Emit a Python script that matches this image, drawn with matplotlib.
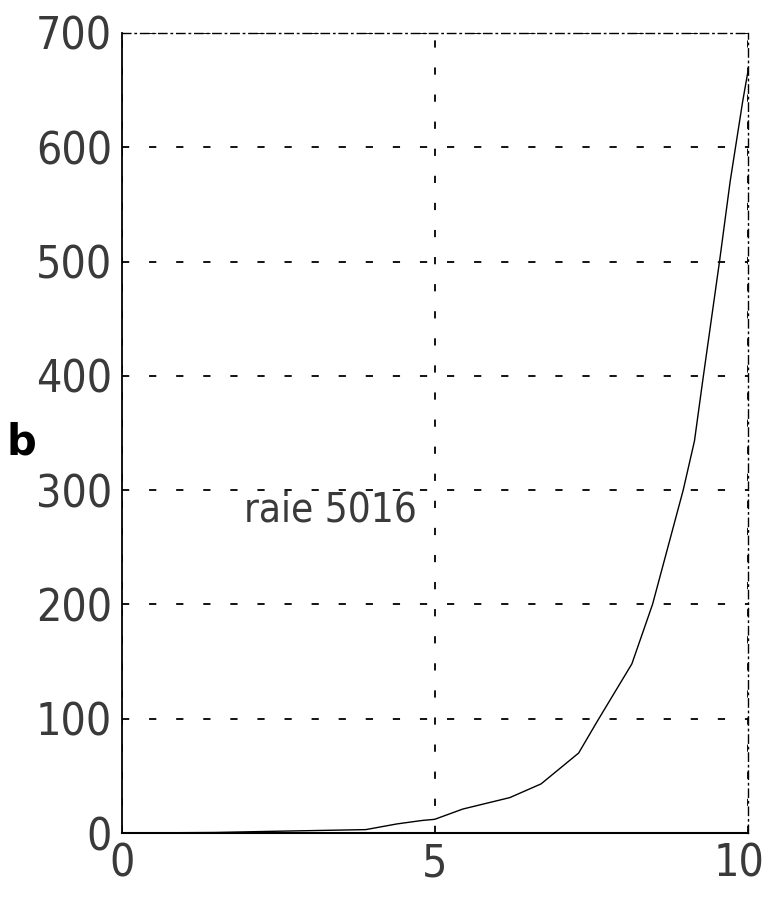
import matplotlib.pyplot as plt
import matplotlib.transforms as mtransforms
from matplotlib import font_manager
from matplotlib.font_manager import FontProperties

# growth curve for the 5016 line
x_vals = [0, 1.5, 2.4, 3.9, 4.4, 4.8, 5.0, 5.45, 6.2, 6.7, 7.3, 7.6, 8.15,
          8.48, 8.97, 9.15, 9.28, 9.55, 9.72, 9.82, 9.92, 10.0]
b_vals = [0, 0.5, 1.5, 3, 8, 11, 12, 21, 31, 43, 70, 98, 148,
          200, 300, 343, 395, 500, 570, 605, 640, 665]

x_ticks = [0, 5, 10]
y_ticks = [0, 100, 200, 300, 400, 500, 600, 700]
label_text = "raie 5016"

# look for a condensed face for the big tick labels
narrow_file = None
for f in font_manager.fontManager.ttflist:
    condensed = ('Narrow' in f.name or 'Condensed' in f.name
                 or str(f.stretch) in ('condensed', 'semi-condensed', '75', '87'))
    if condensed and f.weight in (400, 'normal', 'regular') and f.style == 'normal':
        narrow_file = f.fname
        break
if narrow_file:
    tick_font = FontProperties(fname=narrow_file, size=32)
    note_font = FontProperties(fname=narrow_file, size=29)
else:
    tick_font = FontProperties(family='Liberation Sans', size=28)
    note_font = FontProperties(family='Liberation Sans', size=25)

fig = plt.figure(figsize=(7.7, 9), dpi=100)
ax = fig.add_axes([0.158, 0.0744, 0.813, 0.889])

ax.plot(x_vals, b_vals, color='black', linewidth=1.0)

ax.set_xlim(0, 10)
ax.set_ylim(0, 700)
ax.set_xticks(x_ticks)
ax.set_yticks(y_ticks)

ax.grid(True, color='black', linestyle=(0, (4, 11)), linewidth=1.3)

ax.spines['left'].set_linewidth(1.3)
ax.spines['bottom'].set_linewidth(1.5)
for side in ('top', 'right'):
    ax.spines[side].set_linestyle((0, (6, 3, 1, 3)))
    ax.spines[side].set_linewidth(1.0)

ax.tick_params(direction='in', length=0, pad=7)
for lab in ax.get_xticklabels() + ax.get_yticklabels():
    lab.set_fontproperties(tick_font)
    lab.set_color('#3a3a3a')

# nudge the last x label so it stays inside the figure
last = ax.get_xticklabels()[-1]
last.set_transform(last.get_transform()
                   + mtransforms.ScaledTranslation(-6 / 72, 0, fig.dpi_scale_trans))

ax.text(1.95, 282, label_text, fontproperties=note_font,
        color='#3a3a3a', va='center', ha='left')

fig.text(0.028, 0.508, 'b', fontfamily='DejaVu Sans', fontweight='bold',
         fontsize=30, ha='center', va='center')

fig.savefig('out.png', dpi=100)
